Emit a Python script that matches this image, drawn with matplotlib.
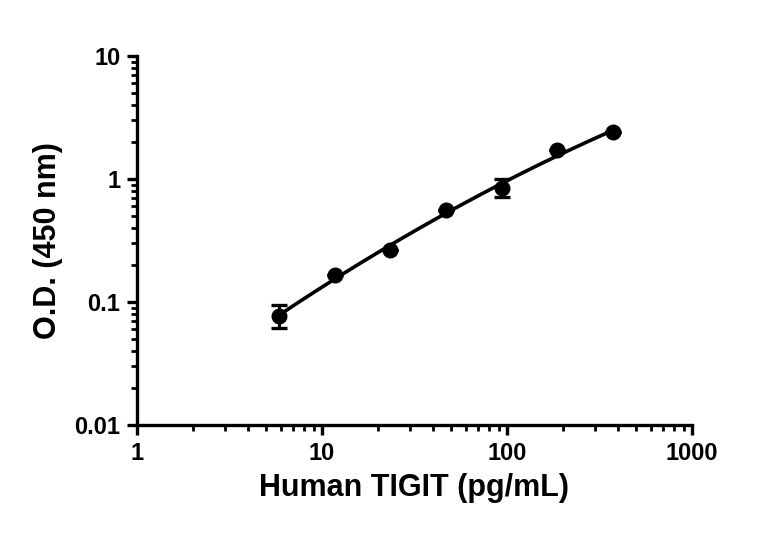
import numpy as np
import matplotlib.pyplot as plt
from matplotlib.ticker import LogLocator, FixedLocator, NullFormatter

# Human TIGIT standard curve
conc = [5.86, 11.7, 23.4, 46.9, 93.75, 187.5, 375]
od = [0.077, 0.165, 0.265, 0.56, 0.85, 1.71, 2.40]
err_lo = [0.015, 0.0, 0.0, 0.0, 0.14, 0.0, 0.0]
err_hi = [0.018, 0.0, 0.0, 0.0, 0.15, 0.0, 0.0]

x_ticks = [1, 10, 100, 1000]
x_labels = ["1", "10", "100", "1000"]
y_ticks = [0.01, 0.1, 1, 10]
y_labels = ["0.01", "0.1", "1", "10"]

plt.rcParams['font.family'] = ['Liberation Sans', 'DejaVu Sans']
plt.rcParams['font.weight'] = 'bold'

fig = plt.figure(figsize=(7.68, 5.34), dpi=100)
ax = fig.add_axes([0.1784, 0.204, 0.7226, 0.691])

# smooth fit in log-log space
lx = np.log10(conc)
ly = np.log10(od)
coef = np.polyfit(lx, ly, 2)
xs = np.linspace(lx[0], lx[-1], 200)
ax.plot(10 ** xs, 10 ** np.polyval(coef, xs), color='black', lw=2.6, zorder=2)

ax.errorbar(conc, od, yerr=[err_lo, err_hi], fmt='o', color='black',
            ms=10.5, elinewidth=2.2, capsize=6, capthick=2.4, zorder=3)

ax.set_xscale('log')
ax.set_yscale('log')
ax.set_xlim(1, 1000)
ax.set_ylim(0.01, 10)

ax.xaxis.set_major_locator(FixedLocator(x_ticks))
ax.set_xticklabels(x_labels)
ax.yaxis.set_major_locator(FixedLocator(y_ticks))
ax.set_yticklabels(y_labels)
ax.xaxis.set_minor_locator(LogLocator(base=10, subs=np.arange(2, 10)))
ax.yaxis.set_minor_locator(LogLocator(base=10, subs=np.arange(2, 10)))
ax.xaxis.set_minor_formatter(NullFormatter())
ax.yaxis.set_minor_formatter(NullFormatter())

for side in ['top', 'right']:
    ax.spines[side].set_visible(False)
for side in ['left', 'bottom']:
    ax.spines[side].set_linewidth(2.4)

ax.tick_params(which='major', length=7, width=2.4, labelsize=17, pad=5)
ax.tick_params(which='minor', length=4, width=2.0)

ax.set_xlabel("Human TIGIT (pg/mL)", fontsize=22, fontweight='bold', labelpad=6)
ax.set_ylabel("O.D. (450 nm)", fontsize=22, fontweight='bold', labelpad=8)

fig.savefig("out.png", dpi=100)
